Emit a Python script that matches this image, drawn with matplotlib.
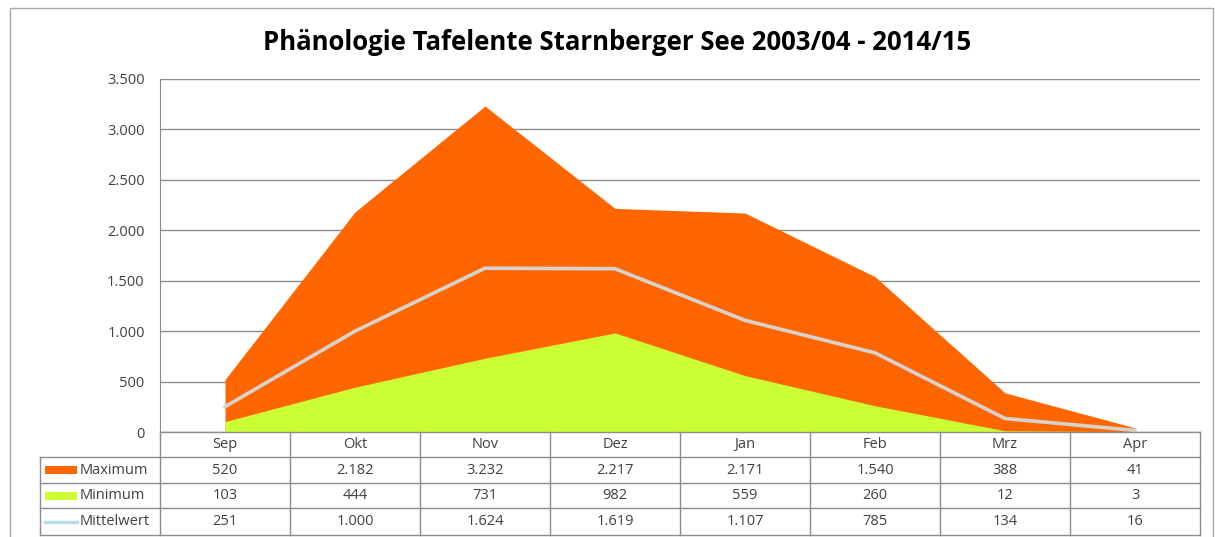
import matplotlib.pyplot as plt
from matplotlib.patches import Rectangle
from matplotlib.lines import Line2D

months = ['Sep', 'Okt', 'Nov', 'Dez', 'Jan', 'Feb', 'Mrz', 'Apr']
maximum = [520, 2182, 3232, 2217, 2171, 1540, 388, 41]
minimum = [103, 444, 731, 982, 559, 260, 12, 3]
mittelwert = [251, 1000, 1624, 1619, 1107, 785, 134, 16]
series_names = ['Maximum', 'Minimum', 'Mittelwert']
yticks = [0, 500, 1000, 1500, 2000, 2500, 3000, 3500]

ORANGE = '#ff6600'
GREEN = '#ccff33'
MEAN_LINE = '#d6d2ce'
MEAN_LEG = '#b7dde8'
GRID = '#8c8c8c'
TXT = '#404040'
FONT = 'Open Sans'
FS = 10.5

W, H = 1215, 537


def de(v):
    return f'{v:,}'.replace(',', '.')


def px(x0, y0, x1, y1):
    # pixel box -> figure fraction [left, bottom, width, height]
    return [x0 / W, 1 - y1 / H, (x1 - x0) / W, (y1 - y0) / H]


fig = plt.figure(figsize=(W / 100, H / 100), dpi=100)

# outer chart frame
fig.patches.append(Rectangle((10 / W, -0.05), 1203 / W, 1.05 - 8 / H,
                             transform=fig.transFigure, fill=False,
                             edgecolor='#a6a6a6', linewidth=1))

fig.text(617 / W, 1 - 42 / H, 'Phänologie Tafelente Starnberger See 2003/04 - 2014/15',
         ha='center', va='center', fontsize=18.5, fontweight='bold',
         family=FONT, color='black')

# plot area
ax = fig.add_axes(px(160, 79, 1200, 432))
x = list(range(len(months)))
ax.fill_between(x, 0, maximum, color=ORANGE, linewidth=0, zorder=2)
ax.fill_between(x, 0, minimum, color=GREEN, linewidth=0, zorder=3)
ax.plot(x, mittelwert, color=MEAN_LINE, linewidth=2.6, zorder=4,
        solid_joinstyle='round')
ax.set_xlim(-0.5, len(months) - 0.5)
ax.set_ylim(0, 3500)
ax.set_yticks(yticks)
ax.set_yticklabels([de(v) for v in yticks], family=FONT, fontsize=FS, color=TXT)
ax.set_xticks([])
ax.tick_params(axis='y', length=0, pad=11)
for v in yticks:
    ax.axhline(v, color=GRID, linewidth=1, zorder=1)
for s in ['top', 'right', 'bottom']:
    ax.spines[s].set_visible(False)
ax.spines['left'].set_color(GRID)

# data table below the plot
tx = fig.add_axes(px(40, 432, 1200, 536))
tx.set_xlim(-0.5 - 120 / 130, len(months) - 0.5)
tx.set_ylim(536, 432)
tx.axis('off')
rows = [432, 457, 483, 508, 535]
left = -0.5 - 120 / 130
right = len(months) - 0.5
lc = dict(color=GRID, linewidth=1, clip_on=False)
tx.plot([-0.5, right], [rows[0], rows[0]], **lc)
for r in rows[1:]:
    tx.plot([left, right], [r, r], **lc)
for i in range(len(months) + 1):
    tx.plot([i - 0.5, i - 0.5], [rows[0], rows[-1]], **lc)
tx.plot([left, left], [rows[1], rows[-1]], **lc)

tk = dict(ha='center', va='center', family=FONT, fontsize=FS, color=TXT)
for i, m in enumerate(months):
    tx.text(i, (rows[0] + rows[1]) / 2, m, **tk)
for j, vals in enumerate([maximum, minimum, mittelwert]):
    yc = (rows[j + 1] + rows[j + 2]) / 2
    for i, v in enumerate(vals):
        tx.text(i, yc, de(v), **tk)

# legend keys in the first column
sw0 = left + 5 / 130
sw1 = left + 37 / 130
for j, (name, col) in enumerate(zip(series_names, [ORANGE, GREEN, MEAN_LEG])):
    yc = (rows[j + 1] + rows[j + 2]) / 2
    if j < 2:
        tx.add_patch(Rectangle((sw0, yc - 4), sw1 - sw0, 8, color=col,
                               linewidth=0, clip_on=False))
    else:
        tx.add_line(Line2D([sw0, sw1], [yc, yc], color=col, linewidth=2.5,
                           clip_on=False))
    tx.text(sw1 + 3 / 130, yc, name, ha='left', va='center', family=FONT,
            fontsize=FS, color=TXT)

fig.savefig('out.png', dpi=100)
